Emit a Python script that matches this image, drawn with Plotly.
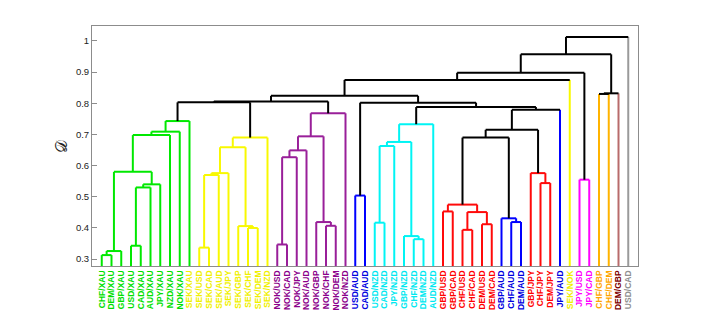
import plotly.graph_objects as go

# Leaves in dendrogram order
labels = ["CHF/XAU","DEM/XAU","GBP/XAU","USD/XAU","CAD/XAU","AUD/XAU","JPY/XAU","NZD/XAU","NOK/XAU",
          "SEK/XAU","SEK/USD","SEK/CAD","SEK/AUD","SEK/JPY","SEK/GBP","SEK/CHF","SEK/DEM","SEK/NZD",
          "NOK/USD","NOK/CAD","NOK/JPY","NOK/AUD","NOK/GBP","NOK/CHF","NOK/DEM","NOK/NZD",
          "USD/AUD","CAD/AUD",
          "USD/NZD","CAD/NZD","JPY/NZD","GBP/NZD","CHF/NZD","DEM/NZD","AUD/NZD",
          "GBP/USD","GBP/CAD","CHF/USD","CHF/CAD","DEM/USD","DEM/CAD",
          "GBP/AUD","CHF/AUD","DEM/AUD",
          "GBP/JPY","CHF/JPY","DEM/JPY",
          "JPY/AUD","SEK/NOK","JPY/USD","JPY/CAD","CHF/GBP","CHF/DEM","DEM/GBP","USD/CAD"]
label_group = ["g"]*9 + ["y"]*9 + ["p"]*8 + ["b"]*2 + ["c"]*7 + ["r"]*6 + ["b"]*3 + ["r"]*3 + \
              ["b","y","m","m","o","o","w","k"]
line_group = ["g"]*10 + ["y"]*8 + ["p"]*8 + ["b"]*2 + ["c"]*7 + ["r"]*6 + ["b"]*3 + ["r"]*3 + \
             ["b","y","m","m","o","o","w","k"]

# Merges: (name, left child, right child, height, colour group)
merge_name  = ["L1","L2","L3","L4","L5","L6","L7","L8","L9",
               "Y1","Y2","Y3","Y4","Y5","Y6","Y7","B1",
               "P1","P2","P3","P4","P5","P6","P7","B2",
               "A1","C1","C2","C3","C4","C5","C6",
               "R1","R2","R3","R4","R5","A2","A3","B3","R6","R7",
               "B4","B5","B6","B7","B8","B9","M1","B10","O1","O2","B11","B12"]
merge_left  = ["CHF/XAU","L1","USD/XAU","L3","L4","L2","L6","L7","L8",
               "SEK/USD","Y1","Y2","SEK/CHF","SEK/GBP","Y3","Y6","L9",
               "NOK/USD","P1","P2","NOK/CHF","NOK/GBP","P3","P6","B1",
               "USD/AUD","USD/NZD","C1","CHF/NZD","GBP/NZD","C2","C5",
               "GBP/USD","CHF/USD","DEM/USD","R2","R1","CHF/AUD","GBP/AUD","R5","CHF/JPY","GBP/JPY",
               "B3","B4","C6","A1","B2","B8","JPY/USD","B9","CHF/GBP","O1","B10","B11"]
merge_right = ["DEM/XAU","GBP/XAU","CAD/XAU","AUD/XAU","JPY/XAU","L5","NZD/XAU","NOK/XAU","SEK/XAU",
               "SEK/CAD","SEK/AUD","SEK/JPY","SEK/DEM","Y4","Y5","SEK/NZD","Y7",
               "NOK/CAD","NOK/JPY","NOK/AUD","NOK/DEM","P4","P5","NOK/NZD","P7",
               "CAD/AUD","CAD/NZD","JPY/NZD","DEM/NZD","C3","C4","AUD/NZD",
               "GBP/CAD","CHF/CAD","DEM/CAD","R3","R4","DEM/AUD","A2","A3","DEM/JPY","R6",
               "R7","JPY/AUD","B5","B6","B7","SEK/NOK","JPY/CAD","M1","CHF/DEM","DEM/GBP","O2","USD/CAD"]
merge_height = [0.313,0.326,0.343,0.530,0.540,0.580,0.698,0.709,0.743,
                0.337,0.570,0.576,0.400,0.406,0.659,0.690,0.803,
                0.347,0.627,0.649,0.407,0.419,0.694,0.768,0.806,
                0.504,0.417,0.663,0.364,0.374,0.676,0.733,
                0.453,0.394,0.412,0.451,0.475,0.419,0.431,0.690,0.544,0.576,
                0.715,0.779,0.788,0.802,0.824,0.875,0.555,0.898,0.830,0.832,0.957,1.013]
merge_group = ["g"]*9 + ["y"]*7 + ["k0"] + ["p"]*7 + ["k0"] + ["b"] + ["c"]*6 + \
              ["r"]*5 + ["b"]*2 + ["k0"] + ["r"]*2 + ["k0"]*6 + ["m"] + ["k0"]*5

line_colors = {"g": "#00e800", "y": "#f8f800", "p": "#991f99", "b": "#0000ff", "c": "#00f4f4",
               "r": "#ff0a0a", "m": "#ff00ff", "o": "#ffb300", "w": "#b86b6b", "k": "#9a9a9a",
               "k0": "#000000"}
label_colors = {"g": "#00e000", "y": "#f0f000", "p": "#8b008b", "b": "#0000e0", "c": "#00e8f0",
                "r": "#ff0000", "m": "#ff00ff", "o": "#ffa500", "w": "#800000", "k": "#909090"}

y_min, y_max = 0.278, 1.048

# layout computation (positions from leaf order and merge tree)
xpos, ypos, col = {}, {}, {}
for i, lab in enumerate(labels):
    xpos[lab] = i + 1
    ypos[lab] = y_min - 0.02
    col[lab] = line_colors[line_group[i]]

segs = {}
def add(c, xs, ys):
    segs.setdefault(c, ([], []))
    segs[c][0].extend(xs + [None])
    segs[c][1].extend(ys + [None])

leafset = set(labels)
for nm, a, b, h, g in zip(merge_name, merge_left, merge_right, merge_height, merge_group):
    c = line_colors[g]
    for ch in (a, b):
        vc = col[ch] if ch in leafset else c
        add(vc, [xpos[ch], xpos[ch]], [ypos[ch], h])
    add(c, [xpos[a], xpos[b]], [h, h])
    xpos[nm] = (xpos[a] + xpos[b]) / 2
    ypos[nm] = h
    col[nm] = c

fig = go.Figure()
order = [k for k in segs if k != "#000000"] + (["#000000"] if "#000000" in segs else [])
for c in order:
    xs, ys = segs[c]
    fig.add_trace(go.Scatter(x=xs, y=ys, mode="lines", line=dict(color=c, width=2),
                             hoverinfo="skip", showlegend=False))

ticktext = ['<span style="color:%s"><b>%s</b></span>' % (label_colors[g], lab)
            for lab, g in zip(labels, label_group)]

fig.update_layout(
    width=706, height=328,
    margin=dict(l=84, r=76, t=18, b=70, autoexpand=False),
    paper_bgcolor="white", plot_bgcolor="white",
    font=dict(family="Liberation Sans, Arial, sans-serif", size=10, color="#222"),
    xaxis=dict(range=[0, 56], tickvals=list(range(1, len(labels) + 1)), ticktext=ticktext,
               tickangle=-90, tickfont=dict(size=8.5), ticks="", showgrid=False, zeroline=False,
               showline=True, linecolor="#8c8c8c", linewidth=1, mirror=True),
    yaxis=dict(range=[y_min, y_max], tickvals=[0.3,0.4,0.5,0.6,0.7,0.8,0.9,1.0],
               ticktext=["0.3","0.4","0.5","0.6","0.7","0.8","0.9","1"],
               ticks="inside", ticklen=5, tickcolor="#8c8c8c", tickfont=dict(size=9.5),
               showgrid=False, zeroline=False, showline=True, linecolor="#8c8c8c",
               linewidth=1, mirror=True,
               title=dict(text="𝒟", font=dict(size=16, family="DejaVu Serif, serif"), standoff=4)),
)

fig.write_html("out.html")
